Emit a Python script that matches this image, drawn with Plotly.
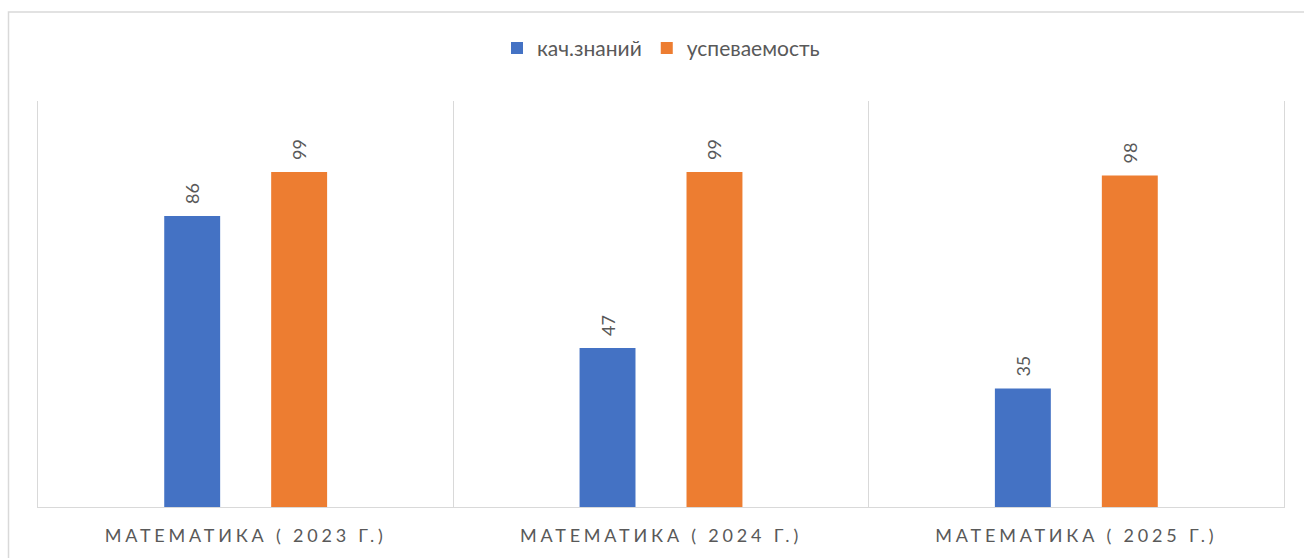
import plotly.graph_objects as go

categories = ["МАТЕМАТИКА ( 2023 Г.)", "МАТЕМАТИКА ( 2024 Г.)", "МАТЕМАТИКА ( 2025 Г.)"]
series_names = ["кач.знаний", "успеваемость"]
quality = [86, 47, 35]
progress = [99, 99, 98]
colors = ["#4472C4", "#ED7D31"]

FONT = "Lato, 'Open Sans', sans-serif"
GRAY = "#595959"

fig = go.Figure()
for name, vals, col in zip(series_names, [quality, progress], colors):
    fig.add_trace(go.Bar(
        name=name, x=categories, y=vals,
        marker=dict(color=col, line=dict(width=0)),
        text=vals, texttemplate="\u2002%{text}", textposition="outside", textangle=-90,
        textfont=dict(family=FONT, size=18, color=GRAY),
        cliponaxis=False,
    ))

W, H = 1304, 558
L, R, T, B = 38, 20, 101, 49
pw, ph = W - L - R, H - T - B

def px(x):
    return (x - L) / pw

def py(y):
    return (H - B - y) / ph

fig.update_layout(
    width=W, height=H,
    margin=dict(l=L, r=R, t=T, b=B),
    paper_bgcolor="white", plot_bgcolor="white",
    barmode="group", bargap=0.485, bargroupgap=0.477,
    font=dict(family=FONT, color=GRAY, size=18),
    showlegend=True,
    legend=dict(orientation="h", x=0.5, xanchor="center", y=py(48), yanchor="middle",
                font=dict(family=FONT, size=21, color=GRAY), itemwidth=30,
                bgcolor="rgba(0,0,0,0)"),
    xaxis=dict(type="category", tickson="boundaries", showgrid=True, gridcolor="#D9D9D9",
               gridwidth=1, showline=True, linecolor="#D9D9D9", linewidth=1, mirror=False,
               ticks="", tickfont=dict(family=FONT, size=18, color=GRAY), ticklabelstandoff=12,
               zeroline=False, fixedrange=True),
    yaxis=dict(range=[0, 120], showgrid=False, showticklabels=False, zeroline=False,
               showline=True, mirror=True, linecolor="#D9D9D9", linewidth=1, ticks="",
               fixedrange=True),
    shapes=[dict(type="rect", xref="paper", yref="paper",
                 x0=px(8.5), x1=px(1310), y0=py(570), y1=py(11.5),
                 line=dict(color="#D9D9D9", width=1.5), fillcolor="rgba(0,0,0,0)", layer="below")],
)

post = """
var s = document.createElement('style');
s.innerHTML = 'body { margin: 0; } .xtick text { letter-spacing: 3.8px; }';
document.head.appendChild(s);
"""
fig.write_html("out.html", post_script=post, config={"displayModeBar": False})
